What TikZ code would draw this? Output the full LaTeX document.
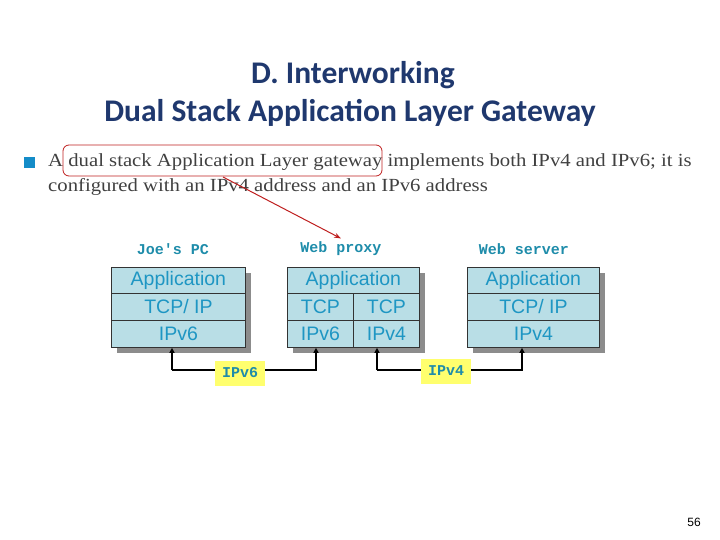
\documentclass[tikz,border=0pt]{standalone}
\usepackage{fontspec}
\setmainfont[FakeStretch=1.12]{Liberation Serif}
\newfontfamily\titlef{Carlito}
\newfontfamily\sansf{Liberation Sans}
\newfontfamily\monof{Liberation Mono}
\usetikzlibrary{arrows.meta}
\definecolor{titleblue}{RGB}{31,56,110}
\definecolor{bodygray}{RGB}{64,64,64}
\definecolor{bulletblue}{RGB}{20,140,200}
\definecolor{boxfill}{RGB}{185,222,230}
\definecolor{boxtext}{RGB}{30,150,195}
\definecolor{labteal}{RGB}{30,140,170}
\definecolor{hilite}{RGB}{255,255,110}
\definecolor{redline}{RGB}{190,30,30}
\tikzset{
  cell/.style={draw=black!80, line width=0.8pt, fill=boxfill, text=boxtext, font=\sansf\fontsize{19.5}{19.5}\selectfont, inner sep=0pt, anchor=north west},
  shadow/.style={fill=black!45, draw=none},
  lab/.style={text=labteal, font=\monof\bfseries\fontsize{15}{15}\selectfont},
  tag/.style={fill=hilite, text=labteal, font=\monof\bfseries\fontsize{15}{15}\selectfont, minimum width=50pt, minimum height=25pt, inner sep=0pt},
  link/.style={line width=1.2pt, -{Triangle[length=5pt,width=5pt]}},
  ttl/.style={titleblue, font=\titlef\bfseries\fontsize{31.5}{31.5}\selectfont},
  body/.style={anchor=west, text=bodygray, font=\fontsize{18.5}{24}\selectfont, inner sep=0pt}
}
\begin{document}
\begin{tikzpicture}[x=1pt,y=-1pt]
\useasboundingbox (0,0) rectangle (720,540);
\node[ttl] (t1) at (353,75) {D. Interworking};
\node[ttl] (t2) at (350,113) {Dual Stack Application Layer Gateway};
\fill[bulletblue] (24,157) rectangle (35,168);
\node[body] (b1) at (48,162) {A dual stack Application Layer gateway implements both IPv4 and IPv6; it is};
\node[body] (b2) at (48,187) {configured with an IPv4 address and an IPv6 address};
\node[draw=redline, line width=0.8pt, rounded corners=6pt, minimum width=319pt, minimum height=31pt, inner sep=0pt] (hl) at (222.5,160.5) {};
% shadows
\fill[shadow] (117,273) rectangle (251,353);
\fill[shadow] (293,273) rectangle (425,353);
\fill[shadow] (473,273) rectangle (605,353);
% Joe's PC
\node[cell, minimum width=134pt, minimum height=26pt] (ja) at (111,267) {Application};
\node[cell, minimum width=134pt, minimum height=27pt] (jt) at (111,293) {TCP/ IP};
\node[cell, minimum width=134pt, minimum height=27pt] (ji) at (111,320) {IPv6};
% Web proxy
\node[cell, minimum width=132pt, minimum height=26pt] (pa) at (287,267) {Application};
\node[cell, minimum width=66pt, minimum height=27pt] (pt1) at (287,293) {TCP};
\node[cell, minimum width=66pt, minimum height=27pt] (pt2) at (353,293) {TCP};
\node[cell, minimum width=66pt, minimum height=27pt] (pi1) at (287,320) {IPv6};
\node[cell, minimum width=66pt, minimum height=27pt] (pi2) at (353,320) {IPv4};
% Web server
\node[cell, minimum width=132pt, minimum height=26pt] (sa) at (467,267) {Application};
\node[cell, minimum width=132pt, minimum height=27pt] (st) at (467,293) {TCP/ IP};
\node[cell, minimum width=132pt, minimum height=27pt] (si) at (467,320) {IPv4};
% labels
\node[lab] (l1) at (173,249) {Joe's PC};
\node[lab] (l2) at (341,249) {Web proxy};
\node[lab] (l3) at (524,249) {Web server};
% connectors
\coordinate (c1) at (172,370); \coordinate (c2) at (316,370);
\coordinate (c3) at (377,370); \coordinate (c4) at (522,370);
\draw[link] (c1) -- (c2) -- (c2 |- ji.south);
\draw[link] (c1) -- (c1 |- ji.south);
\draw[link] (c3) -- (c4) -- (c4 |- si.south);
\draw[link] (c3) -- (c3 |- pi2.south);
\node[tag] (v6) at (240,373) {IPv6};
\node[tag] (v4) at (446,371) {IPv4};
\draw[redline, line width=1pt, -{Stealth[length=7pt,width=5pt]}] (223,177) -- (l2.north);
\node[font=\sansf\fontsize{12}{12}\selectfont] (pg) at (694,522) {56};
\end{tikzpicture}
\end{document}
